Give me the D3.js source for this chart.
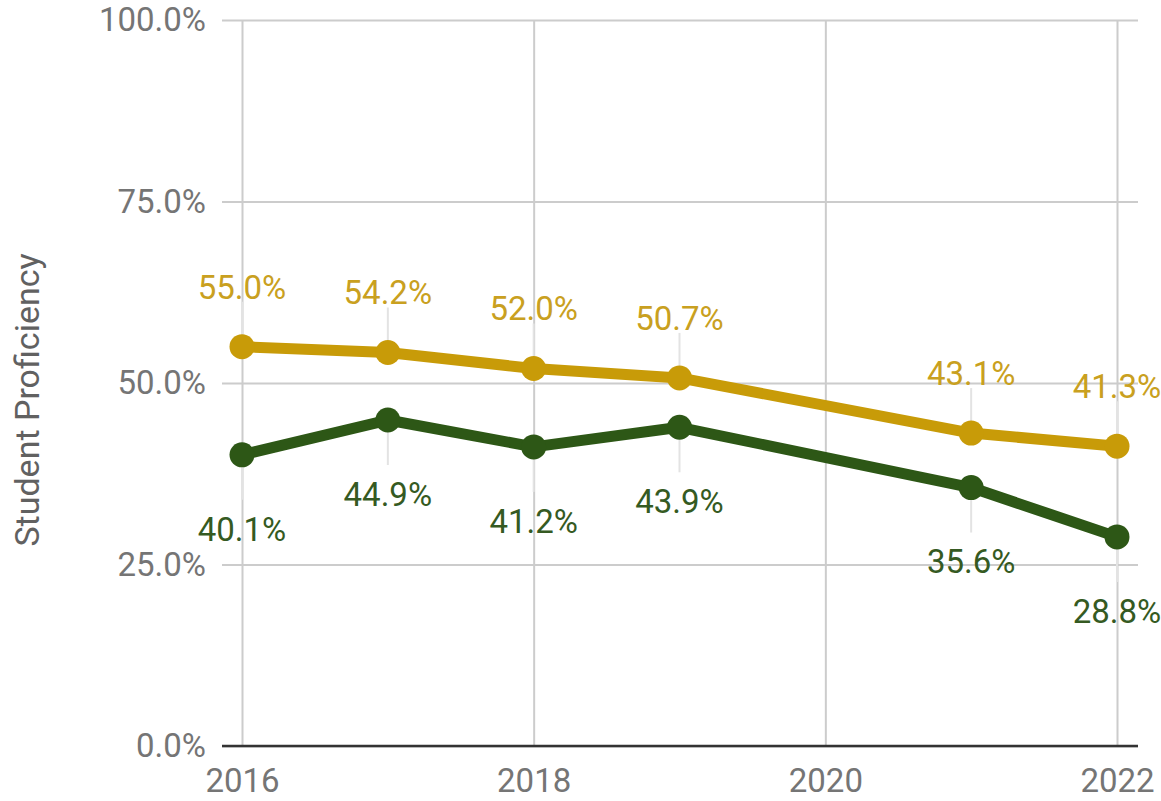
<!DOCTYPE html>
<html>
<head>
<meta charset="utf-8">
<script src="https://cdn.jsdelivr.net/npm/d3@7.9.0/dist/d3.min.js"></script>
<style>
  html, body { margin: 0; padding: 0; background: #fff; }
  svg { display: block; font-family: Roboto, "Noto Sans", sans-serif; }
</style>
</head>
<body>
<svg id="chart" width="1161" height="801"></svg>
<script>
// chart data
const years = [2016, 2017, 2018, 2019, 2021, 2022];
const goldValues = [55.0, 54.2, 52.0, 50.7, 43.1, 41.3];
const greenValues = [40.1, 44.9, 41.2, 43.9, 35.6, 28.8];
const yTicks = [0, 25, 50, 75, 100];
const xTicks = [2016, 2018, 2020, 2022];

const svg = d3.select('#chart');

const x = d3.scaleLinear().domain([2016, 2022]).range([242, 1117]);
const y = d3.scaleLinear().domain([0, 100]).range([746, 20]);

const gridLeft = 222, gridRight = 1138;
const fontSize = 33;

// y axis + horizontal gridlines
const yAxis = svg.append('g')
  .attr('transform', `translate(${gridLeft},0)`)
  .call(d3.axisLeft(y)
    .tickValues(yTicks)
    .tickSize(-(gridRight - gridLeft))
    .tickPadding(16)
    .tickFormat(d => d.toFixed(1) + '%'));
yAxis.select('.domain').remove();
yAxis.selectAll('line').attr('stroke', '#cccccc').attr('stroke-width', 2);
yAxis.selectAll('text').attr('font-size', fontSize).attr('fill', '#757575').attr('font-family', 'Roboto');

// x axis + vertical gridlines
const xAxis = svg.append('g')
  .attr('transform', `translate(0,${y(0)})`)
  .call(d3.axisBottom(x)
    .tickValues(xTicks)
    .tickSize(-(y(0) - y(100)))
    .tickPadding(23)
    .tickFormat(d3.format('d')));
xAxis.select('.domain').remove();
xAxis.selectAll('line').attr('stroke', '#cccccc').attr('stroke-width', 2);
xAxis.selectAll('text').attr('font-size', fontSize).attr('fill', '#757575').attr('font-family', 'Roboto');

// baseline
svg.append('line')
  .attr('x1', gridLeft).attr('x2', gridRight)
  .attr('y1', y(0)).attr('y2', y(0))
  .attr('stroke', '#333333').attr('stroke-width', 2.5);

// axis title
svg.append('text')
  .attr('transform', `translate(39,400) rotate(-90)`)
  .attr('text-anchor', 'middle')
  .attr('font-size', 34)
  .attr('fill', '#616161')
  .text('Student Proficiency');

const series = [
  { values: goldValues, color: '#C89B08', labelColor: '#C9A020', dir: -1 },
  { values: greenValues, color: '#2D5716', labelColor: '#355A22', dir: 1 }
];

const line = d3.line().x(d => x(d[0])).y(d => y(d[1]));

series.forEach(s => {
  const pts = years.map((yr, i) => [yr, s.values[i]]);

  // leader lines
  svg.append('g').selectAll('line')
    .data(pts)
    .join('line')
    .attr('x1', d => x(d[0])).attr('x2', d => x(d[0]))
    .attr('y1', d => y(d[1]) + s.dir * 12)
    .attr('y2', d => y(d[1]) + s.dir * 45)
    .attr('stroke', '#e3e3e3').attr('stroke-width', 2);
});

series.forEach(s => {
  const pts = years.map((yr, i) => [yr, s.values[i]]);

  svg.append('path')
    .datum(pts)
    .attr('d', line)
    .attr('fill', 'none')
    .attr('stroke', s.color)
    .attr('stroke-width', 11)
    .attr('stroke-linejoin', 'round');

  svg.append('g').selectAll('circle')
    .data(pts)
    .join('circle')
    .attr('cx', d => x(d[0]))
    .attr('cy', d => y(d[1]))
    .attr('r', 12.5)
    .attr('fill', s.color);

  svg.append('g').selectAll('text')
    .data(pts)
    .join('text')
    .attr('x', d => x(d[0]))
    .attr('y', d => y(d[1]) + (s.dir < 0 ? -60 : 74))
    .attr('dy', '0.36em')
    .attr('text-anchor', 'middle')
    .attr('font-size', fontSize)
    .attr('fill', s.labelColor)
    .text(d => d[1].toFixed(1) + '%');
});
</script>
</body>
</html>
